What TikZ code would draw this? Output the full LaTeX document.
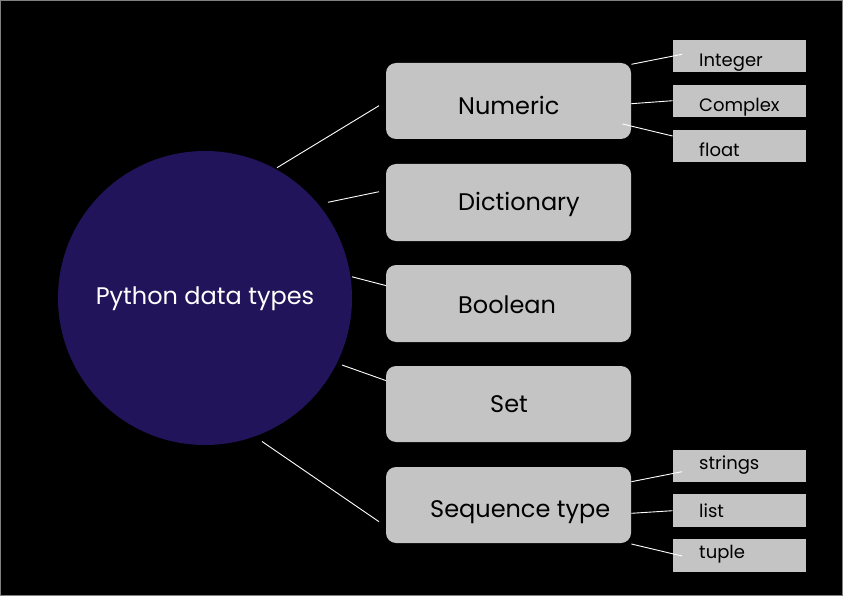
\documentclass[tikz,border=0pt]{standalone}
\usepackage{fontspec}
\setmainfont{Poppins}
\definecolor{bgc}{HTML}{000000}
\definecolor{circ}{HTML}{22145A}
\definecolor{boxc}{HTML}{C4C4C4}
\definecolor{framec}{HTML}{808080}
\begin{document}
\begin{tikzpicture}[x=1pt,y=-1pt,
  bigbox/.style={fill=boxc,rounded corners=10pt,draw=none},
  smallbox/.style={fill=boxc,draw=none},
  lbl/.style={inner sep=0pt,text=black,anchor=base west,font=\fontsize{24}{28}\selectfont},
  slbl/.style={inner sep=0pt,text=black,anchor=base west,font=\fontsize{18}{21}\selectfont},
  conn/.style={draw=white,line width=0.9pt}]
\fill[bgc] (0,0) rectangle (843,596);
\draw[framec,line width=1pt] (0.5,0.5) rectangle (842.5,595.5);
\useasboundingbox (0,0) rectangle (843,596);
% circle
\fill[circ] (205,298) circle (147);
\node[inner sep=0pt,text=white,anchor=base,font=\fontsize{24}{28}\selectfont] (root) at (205,304.3) {Python data types};
% big boxes
\fill[bigbox] (386,63) rectangle (631,139);
\fill[bigbox] (386,164) rectangle (631,241);
\fill[bigbox] (386,265) rectangle (631,342);
\fill[bigbox] (386,366) rectangle (631,442);
\fill[bigbox] (386,467) rectangle (631,543);
\node[lbl] (num) at (458,114.5) {Numeric};
\node[lbl] (dict) at (458,210.5) {Dictionary};
\node[lbl] (bool) at (458,313.5) {Boolean};
\node[lbl] (set) at (490,412.5) {Set};
\node[lbl] (seq) at (430,517.3) {Sequence type};
% small boxes
\fill[smallbox] (673,40) rectangle (806,72.5);
\fill[smallbox] (673,85) rectangle (806,117.5);
\fill[smallbox] (673,130) rectangle (806,162.5);
\fill[smallbox] (673,449.5) rectangle (806,482);
\fill[smallbox] (673,494) rectangle (806,526.5);
\fill[smallbox] (673,539) rectangle (806,572);
\node[slbl] (int) at (699,66.7) {Integer};
\node[slbl] (cpx) at (699,111.7) {Complex};
\node[slbl] (flt) at (699,156.7) {float};
\node[slbl] (str) at (699,469.3) {strings};
\node[slbl] (lst) at (699,517.3) {list};
\node[slbl] (tup) at (699,558.3) {tuple};
% connector endpoints
\coordinate (a1) at (277,167.7); \coordinate (b1) at (379,105.7);
\coordinate (a2) at (328,202.3); \coordinate (b2) at (379,191.7);
\coordinate (a3) at (352,276.8); \coordinate (b3) at (386,285.6);
\coordinate (a4) at (342,365);   \coordinate (b4) at (386,380.6);
\coordinate (a5) at (262,441.5); \coordinate (b5) at (379,521.7);
\coordinate (c1) at (631.4,64.3);  \coordinate (d1) at (682,54.3);
\coordinate (c2) at (631.4,103.7); \coordinate (d2) at (672.5,100.7);
\coordinate (c3) at (622.5,124);   \coordinate (d3) at (672.5,136);
\coordinate (c4) at (631.4,481.7); \coordinate (d4) at (682,471.7);
\coordinate (c5) at (631.4,513.3); \coordinate (d5) at (672.5,510.7);
\coordinate (c6) at (631.4,544);   \coordinate (d6) at (682,556);
\foreach \p/\q in {a1/b1,a2/b2,a3/b3,a4/b4,a5/b5,c1/d1,c2/d2,c3/d3,c4/d4,c5/d5,c6/d6}
  \draw[conn] (\p) -- (\q);
\end{tikzpicture}
\end{document}
